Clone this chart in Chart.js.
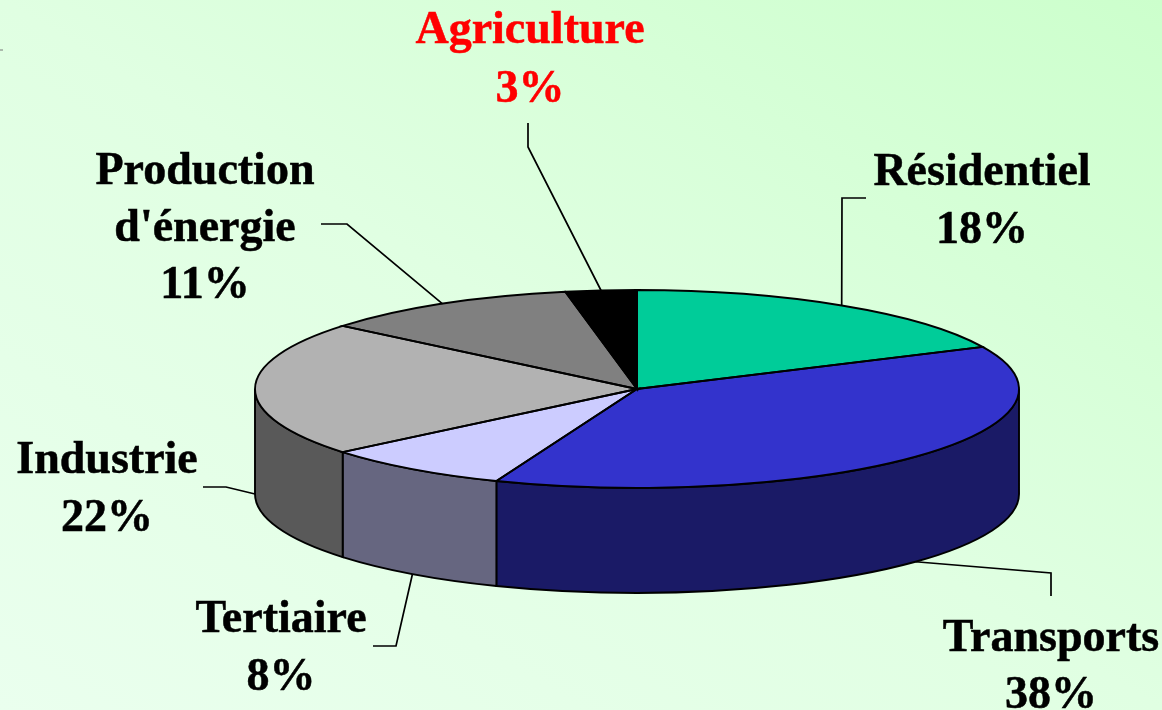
<!DOCTYPE html>
<html lang="fr">
<head>
    <meta charset="UTF-8">
    <title>Répartition par secteur</title>
    <script src="https://cdn.jsdelivr.net/npm/chart.js@4.4.3/dist/chart.umd.min.js"></script>
    <style>
        html, body { margin: 0; padding: 0; width: 1162px; height: 710px; overflow: hidden; }
        body { background: linear-gradient(to top right, #eaffee 0%, #e0ffe2 50%, #ccffcc 100%); }
        canvas { display: block; }
    </style>
</head>
<body>
    <canvas id="pieChart" width="1162" height="710"></canvas>
    <script>
        const categories = ['Résidentiel', 'Transports', 'Tertiaire', 'Industrie', "Production d'énergie", 'Agriculture'];
        const values = [18, 38, 8, 22, 11, 3];
        const topColors = ['#00cc99', '#3333cc', '#ccccff', '#b2b2b2', '#808080', '#000000'];
        const wallColors = ['#006650', '#1a1a66', '#666680', '#595959', '#404040', '#000000'];

        // label placement: text lines, centre x, baseline of each line, leader elbow and end
        const labelLayout = [
            { lines: ['Résidentiel'], x: 982, y: [185, 243], leader: [[842, 198], [866, 198]] },
            { lines: ['Transports'], x: 1051, y: [651, 708], leader: [[1051, 573], [1051, 596]] },
            { lines: ['Tertiaire'], x: 281, y: [632, 690], leader: [[396, 646], [373, 646]] },
            { lines: ['Industrie'], x: 107, y: [473, 531], leader: [[226, 487], [203, 487]] },
            { lines: ['Production', "d'énergie"], x: 205, y: [184, 241, 298], leader: [[347, 224], [321, 224]] },
            { lines: ['Agriculture'], x: 530, y: [43, 102], color: '#ff0000', leader: [[528, 147], [528, 123]] }
        ];

        const squash = 0.259;
        const wallDepth = 105;

        // Pie drawn flattened, with the side wall under it
        const pie3d = {
            id: 'pie3d',
            beforeDatasetsDraw(chart) {
                const ctx = chart.ctx;
                const arcs = chart.getDatasetMeta(0).data;
                ctx.save();
                ctx.lineWidth = 1.9;
                ctx.strokeStyle = '#000';
                arcs.forEach((arc, i) => {
                    const rx = arc.outerRadius;
                    const ry = rx * squash;
                    const s = Math.max(arc.startAngle, 0);
                    const e = Math.min(arc.endAngle, Math.PI);
                    if (s >= e) return;
                    ctx.beginPath();
                    ctx.ellipse(arc.x, arc.y, rx, ry, 0, s, e);
                    ctx.ellipse(arc.x, arc.y + wallDepth, rx, ry, 0, e, s, true);
                    ctx.closePath();
                    ctx.fillStyle = wallColors[i];
                    ctx.fill();
                    ctx.stroke();
                });
                ctx.restore();
                const cy = arcs[0].y;
                ctx.save();
                ctx.translate(0, cy);
                ctx.scale(1, squash);
                ctx.translate(0, -cy);
            },
            afterDatasetsDraw(chart) {
                const ctx = chart.ctx;
                const arcs = chart.getDatasetMeta(0).data;
                ctx.restore();
                ctx.save();
                ctx.lineWidth = 1.9;
                ctx.strokeStyle = '#000';
                arcs.forEach((arc) => {
                    const rx = arc.outerRadius;
                    ctx.beginPath();
                    ctx.moveTo(arc.x, arc.y);
                    ctx.ellipse(arc.x, arc.y, rx, rx * squash, 0, arc.startAngle, arc.endAngle);
                    ctx.closePath();
                    ctx.stroke();
                });
                ctx.restore();
            },
            afterDraw(chart) {
                const ctx = chart.ctx;
                const arcs = chart.getDatasetMeta(0).data;
                ctx.save();
                ctx.textAlign = 'center';
                ctx.textBaseline = 'alphabetic';
                ctx.font = 'bold 46px "Liberation Serif"';
                arcs.forEach((arc, i) => {
                    const layout = labelLayout[i];
                    const mid = (arc.startAngle + arc.endAngle) / 2;
                    const rx = arc.outerRadius;
                    const px = arc.x + rx * Math.cos(mid);
                    let py = arc.y + rx * squash * Math.sin(mid);
                    if (Math.sin(mid) >= -0.001) py += wallDepth;

                    ctx.beginPath();
                    ctx.moveTo(px, py);
                    layout.leader.forEach(p => ctx.lineTo(p[0], p[1]));
                    ctx.lineWidth = 1.7;
                    ctx.strokeStyle = '#000';
                    ctx.stroke();

                    const color = layout.color || '#000';
                    ctx.fillStyle = color;
                    ctx.strokeStyle = color;
                    ctx.lineWidth = 0.5;
                    const text = layout.lines.concat(values[i] + '%');
                    text.forEach((t, n) => {
                        ctx.fillText(t, layout.x, layout.y[n]);
                        ctx.strokeText(t, layout.x, layout.y[n]);
                    });
                });

                // small stray tick on the left edge of the slide
                ctx.beginPath();
                ctx.moveTo(0, 50);
                ctx.lineTo(3, 50);
                ctx.lineWidth = 1;
                ctx.strokeStyle = '#777';
                ctx.stroke();
                ctx.restore();
            }
        };

        new Chart(document.getElementById('pieChart'), {
            type: 'pie',
            data: {
                labels: categories,
                datasets: [{
                    data: values,
                    backgroundColor: topColors,
                    borderWidth: 0
                }]
            },
            options: {
                responsive: false,
                animation: false,
                radius: 382,
                layout: { padding: { left: 112, top: 68 } },
                plugins: {
                    legend: { display: false },
                    tooltip: { enabled: false }
                }
            },
            plugins: [pie3d]
        });
    </script>
</body>
</html>
